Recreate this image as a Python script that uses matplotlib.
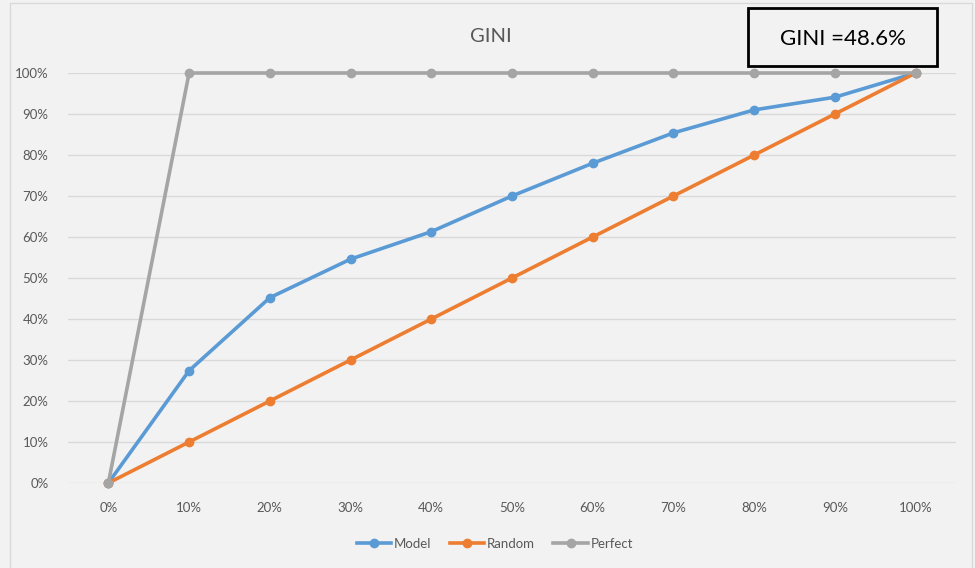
import matplotlib
matplotlib.use("Agg")
import matplotlib.pyplot as plt
from matplotlib.patches import Rectangle

categories = ["0%", "10%", "20%", "30%", "40%", "50%", "60%", "70%", "80%", "90%", "100%"]
model = [0.0, 0.274, 0.452, 0.546, 0.613, 0.700, 0.780, 0.854, 0.910, 0.941, 1.0]
random_ = [0.0, 0.1, 0.2, 0.3, 0.4, 0.5, 0.6, 0.7, 0.8, 0.9, 1.0]
perfect = [0.0, 1.0, 1.0, 1.0, 1.0, 1.0, 1.0, 1.0, 1.0, 1.0, 1.0]
y_ticks = [0.0, 0.1, 0.2, 0.3, 0.4, 0.5, 0.6, 0.7, 0.8, 0.9, 1.0]
y_labels = ["0%", "10%", "20%", "30%", "40%", "50%", "60%", "70%", "80%", "90%", "100%"]

plt.rcParams['font.family'] = ['Lato', 'DejaVu Sans']
W, H = 975, 568
fig = plt.figure(figsize=(W / 100, H / 100), dpi=100)
bg = "#f2f2f2"
fig.patch.set_facecolor(bg)

# outer chart border
fig.add_artist(Rectangle((10 / W, -0.01), (972 - 10) / W, 1 - 3 / H + 0.01,
                         transform=fig.transFigure, fill=False,
                         edgecolor="#d9d9d9", linewidth=1))

ax = fig.add_axes([68 / W, 1 - 483 / H, (956 - 68) / W, (483 - 73) / H])
ax.set_facecolor(bg)
x = list(range(len(categories)))
txt = "#595959"

ax.plot(x, model, color="#5b9bd5", lw=2.6, marker="o", ms=6, label="Model", zorder=3, clip_on=False)
ax.plot(x, random_, color="#ed7d31", lw=2.6, marker="o", ms=6, label="Random", zorder=4, clip_on=False)
ax.plot(x, perfect, color="#a5a5a5", lw=2.6, marker="o", ms=6, label="Perfect", zorder=5, clip_on=False)

ax.set_xlim(-0.5, 10.5)
ax.set_ylim(0, 1)
ax.set_xticks(x)
ax.set_xticklabels(categories)
ax.set_yticks(y_ticks)
ax.set_yticklabels(y_labels)
ax.tick_params(axis="both", length=0, labelsize=9.5, colors=txt)
ax.tick_params(axis="x", pad=14)
ax.tick_params(axis="y", pad=14)
ax.grid(axis="y", color="#d9d9d9", lw=1)
ax.set_axisbelow(True)
for s in ax.spines.values():
    s.set_visible(False)

fig.text(491 / W, 1 - 36 / H, "GINI", ha="center", va="center", fontsize=14.5, color=txt)

fig.add_artist(Rectangle((748 / W, 1 - 66 / H), (937 - 748) / W, (66 - 8) / H,
                         transform=fig.transFigure, facecolor=bg,
                         edgecolor="black", linewidth=2, zorder=10))
fig.text(843 / W, 1 - 39 / H, "GINI =48.6%", ha="center", va="center",
         fontsize=16, color="black", zorder=11)

leg = fig.legend(loc="center", bbox_to_anchor=(495 / W, 1 - 544 / H), ncol=3,
                 frameon=False, fontsize=9.5, handlelength=2.6, handletextpad=0.2,
                 columnspacing=1.4)
for t in leg.get_texts():
    t.set_color(txt)

fig.savefig("out.png", dpi=100, facecolor=bg)
